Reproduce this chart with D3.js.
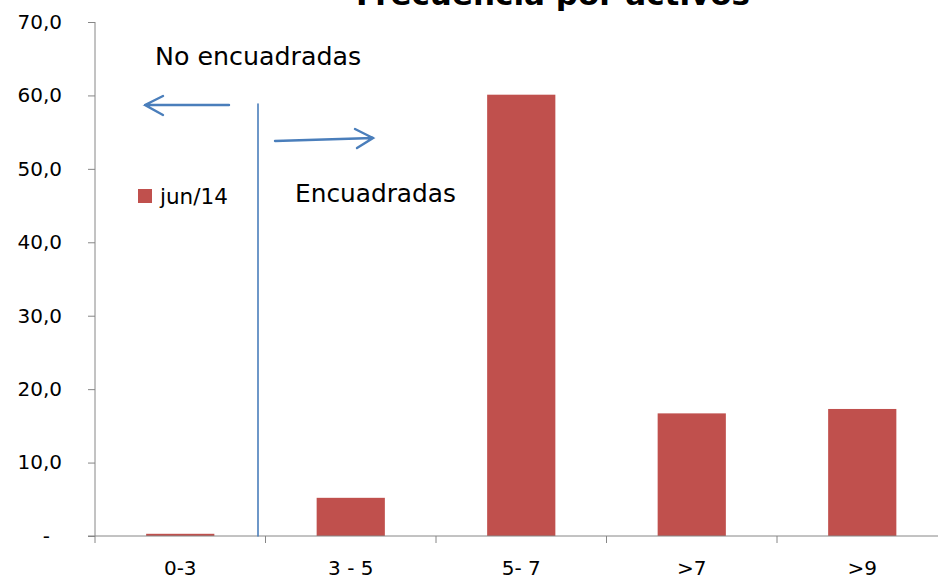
<!DOCTYPE html>
<html>
<head>
<meta charset="utf-8">
<script src="https://cdn.jsdelivr.net/npm/d3@7/dist/d3.min.js"></script>
<style>
  html, body { margin: 0; padding: 0; background: #fff; overflow: hidden; }
  svg { display: block; font-family: "DejaVu Sans", sans-serif; }
</style>
</head>
<body>
<svg id="chart" width="938" height="580"></svg>
<script>
// Frecuencia por activos — jun/14
const categories = ["0-3", "3 - 5", "5- 7", ">7", ">9"];
const values = [0.3, 5.2, 60.1, 16.7, 17.3];
const yTicks = [0, 10, 20, 30, 40, 50, 60, 70];
const seriesName = "jun/14";
const titleText = "Frecuencia por activos";
const leftNote = "No encuadradas";
const rightNote = "Encuadradas";

const barColor = "#C0504D";
const axisColor = "#868686";
const noteColor = "#4A7EBB";

const svg = d3.select("#chart");
const margin = { left: 95, top: 22, bottom: 44 };
const H = 580;
const bandW = 170.5;

const x = d3.scaleBand()
  .domain(categories)
  .range([margin.left, margin.left + bandW * categories.length])
  .paddingInner(0.6)
  .paddingOuter(0.3);

const y = d3.scaleLinear()
  .domain([0, 70])
  .range([H - margin.bottom, margin.top]);

const fmt = v => v === 0 ? "-" : d3.format(".1f")(v).replace(".", ",");

// y axis
const yAxis = svg.append("g")
  .attr("transform", `translate(${margin.left},0)`)
  .call(d3.axisLeft(y).tickValues(yTicks).tickSize(7).tickPadding(26).tickFormat(fmt));
yAxis.select(".domain").attr("stroke", axisColor).attr("d", `M0,${y(70)}V${y(0)}`);
yAxis.selectAll(".tick line").attr("stroke", axisColor);
yAxis.selectAll(".tick text")
  .attr("fill", "#000")
  .style("font-size", "20px")
  .style("font-family", "DejaVu Sans, sans-serif")
  .attr("dx", d => d === 0 ? -12 : 0);

// bars
svg.append("g").selectAll("rect")
  .data(values)
  .join("rect")
  .attr("x", (d, i) => x(categories[i]))
  .attr("width", x.bandwidth())
  .attr("y", d => y(d))
  .attr("height", d => y(0) - y(d))
  .attr("fill", barColor);

// x axis: boundaries between categories carry the tick marks
const xAxis = svg.append("g").attr("transform", `translate(0,${y(0)})`);
xAxis.append("line")
  .attr("x1", margin.left - 7).attr("x2", 938)
  .attr("stroke", axisColor).attr("stroke-width", 1);
const bounds = d3.range(categories.length + 1).map(i => x.range()[0] + i * x.step());
xAxis.selectAll("line.tk")
  .data(bounds)
  .join("line")
  .attr("class", "tk")
  .attr("x1", d => d).attr("x2", d => d)
  .attr("y1", 0).attr("y2", 7)
  .attr("stroke", axisColor);
xAxis.selectAll("text")
  .data(categories)
  .join("text")
  .attr("x", d => x(d) + x.bandwidth() / 2)
  .attr("y", 39)
  .attr("text-anchor", "middle")
  .style("font-size", "20px")
  .text(d => d);

// title
svg.append("text")
  .attr("x", 553).attr("y", 5)
  .attr("text-anchor", "middle")
  .style("font-size", "31px")
  .style("font-weight", "bold")
  .text(titleText);

// legend
const lg = svg.append("g").attr("transform", "translate(138,189)");
lg.append("rect").attr("width", 14).attr("height", 14).attr("fill", barColor);
lg.append("text").attr("x", 22).attr("y", 15).style("font-size", "21.5px").text(seriesName);

// annotations
svg.append("text").attr("x", 155).attr("y", 65).style("font-size", "25.3px").text(leftNote);
svg.append("text").attr("x", 295).attr("y", 202).style("font-size", "24.8px").text(rightNote);

const ann = svg.append("g")
  .attr("stroke", noteColor).attr("fill", "none").attr("stroke-linecap", "round");
ann.append("line").attr("x1", 258).attr("x2", 258).attr("y1", 104).attr("y2", y(0))
  .attr("stroke-width", 1.6);
ann.append("path").attr("d", "M229,105L145,105M163,96L145,105L163,115")
  .attr("stroke-width", 2.4);
ann.append("path").attr("d", "M275,141L373,138M355,129L373,138L357,148")
  .attr("stroke-width", 2.4);
</script>
</body>
</html>
